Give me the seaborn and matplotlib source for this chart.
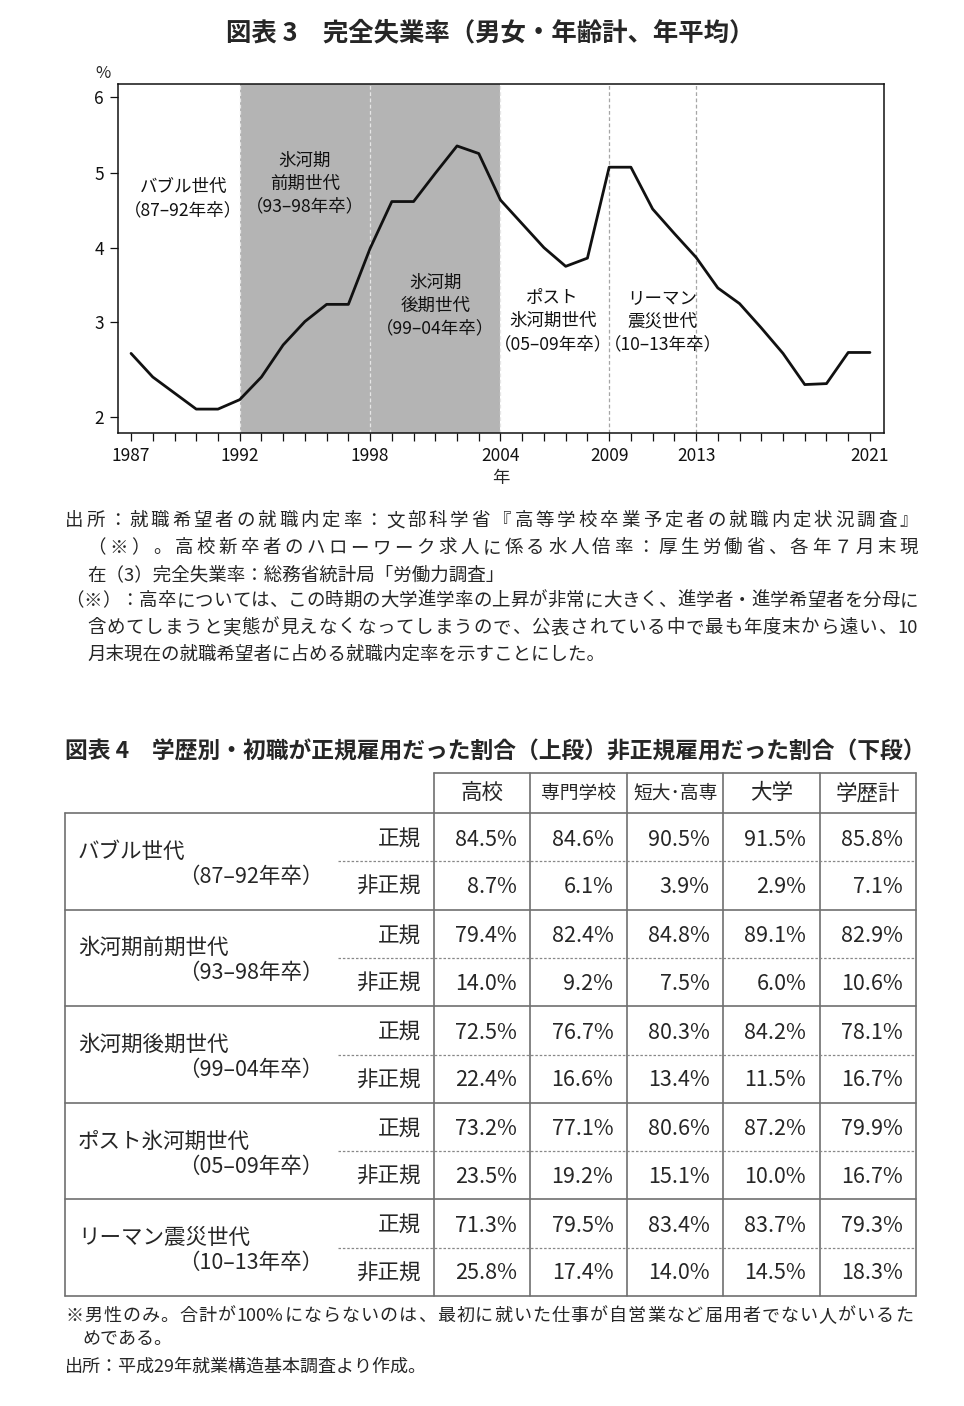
import re
import numpy as np
import pandas as pd
import matplotlib
matplotlib.use("Agg")
import matplotlib.pyplot as plt
import matplotlib.transforms as mtransforms
from matplotlib import font_manager, ft2font
import seaborn as sns

# ---- chart data (図表3) ----
years = list(range(1987, 2022))
unemployment = [2.67, 2.42, 2.25, 2.08, 2.08, 2.18, 2.42, 2.76, 3.01, 3.24,
                3.24, 3.99, 4.62, 4.62, 5.00, 5.36, 5.26, 4.64, 4.32, 4.00,
                3.75, 3.86, 5.08, 5.08, 4.52, 4.19, 3.87, 3.46, 3.25, 2.94,
                2.67, 2.34, 2.35, 2.68, 2.68]
labeled_years = [1987, 1992, 1998, 2004, 2009, 2013, 2021]
y_ticks = [2, 3, 4, 5, 6]
ice_age_start, ice_age_end = 1992, 2004
bounds_in_shade = [1992, 1998, 2004]
bounds_outside = [2009, 2013]
generation_texts = [
    "バブル世代\n（87–92年卒）",
    "氷河期\n前期世代\n（93–98年卒）",
    "氷河期\n後期世代\n（99–04年卒）",
    "ポスト\n氷河期世代\n（05–09年卒）",
    "リーマン\n震災世代\n（10–13年卒）",
]

# ---- table data (図表4) ----
groups = ["バブル世代", "氷河期前期世代", "氷河期後期世代", "ポスト氷河期世代", "リーマン震災世代"]
periods = ["（87–92年卒）", "（93–98年卒）", "（99–04年卒）", "（05–09年卒）", "（10–13年卒）"]
edu_cols = ["高校", "専門学校", "短大･高専", "大学", "学歴計"]
regular = [
    [84.5, 84.6, 90.5, 91.5, 85.8],
    [79.4, 82.4, 84.8, 89.1, 82.9],
    [72.5, 76.7, 80.3, 84.2, 78.1],
    [73.2, 77.1, 80.6, 87.2, 79.9],
    [71.3, 79.5, 83.4, 83.7, 79.3],
]
nonregular = [
    [8.7, 6.1, 3.9, 2.9, 7.1],
    [14.0, 9.2, 7.5, 6.0, 10.6],
    [22.4, 16.6, 13.4, 11.5, 16.7],
    [23.5, 19.2, 15.1, 10.0, 16.7],
    [25.8, 17.4, 14.0, 14.5, 18.3],
]

notes_top = [
    "出所：就職希望者の就職内定率：文部科学省『高等学校卒業予定者の就職内定状況調査』",
    "（※）。高校新卒者のハローワーク求人に係る水人倍率：厚生労働省、各年７月末現",
    "在（3）完全失業率：総務省統計局「労働力調査」",
    "（※）：高卒については、この時期の大学進学率の上昇が非常に大きく、進学者・進学希望者を分母に",
    "含めてしまうと実態が見えなくなってしまうので、公表されている中で最も年度末から遠い、10",
    "月末現在の就職希望者に占める就職内定率を示すことにした。",
]
notes_bottom = [
    "※男性のみ。合計が100%にならないのは、最初に就いた仕事が自営業など届用者でない人がいるた",
    "めである。",
    "出所：平成29年就業構造基本調査より作成。",
]

sns.set_theme(style="ticks")
plt.rcParams["font.family"] = ["Noto Sans CJK JP", "DejaVu Sans"]

W, H = 964, 1406
DPI = 100
fig = plt.figure(figsize=(W / DPI, H / DPI), dpi=DPI)
fig.patch.set_facecolor("white")


def fx(px):
    return px / W


def fy(py):
    return 1 - py / H


_font_path = font_manager.findfont(font_manager.FontProperties(family="Noto Sans CJK JP"))


def advance(token, size):
    f = ft2font.FT2Font(_font_path, hinting_factor=1)
    f.set_size(size, DPI)
    return sum(f.load_char(ord(c)).linearHoriAdvance / 65536.0 for c in token)


def text_line(x0, y, s, size, x1=None):
    """Left aligned line; when x1 is given, spread it out to end at x1 (justified)."""
    if x1 is None:
        fig.text(fx(x0), fy(y), s, ha="left", va="center", fontsize=size)
        return
    tokens = re.findall(r"[0-9A-Za-z%.]+|.", s)
    advs = [advance(t, size) for t in tokens]
    gap = (x1 - x0 - sum(advs)) / max(len(tokens) - 1, 1)
    gap = max(gap, -2.0)
    x = x0
    for t, a in zip(tokens, advs):
        fig.text(fx(x), fy(y), t, ha="left", va="center", fontsize=size)
        x += a + gap


# the printed y axis is not evenly spaced (2->3 is wider than the rest)
Y_KNOTS = [0, 2, 3, 4, 5, 6, 8]
PX_KNOTS = [-188.8, 0.0, 94.4, 169.0, 243.4, 319.4, 471.4]


def y_fwd(v):
    return np.interp(v, Y_KNOTS, PX_KNOTS)


def y_inv(p):
    return np.interp(p, PX_KNOTS, Y_KNOTS)


# ---------------- chart ----------------
fig.text(fx(490), fy(33), "図表 3　完全失業率（男女・年齢計、年平均）",
         ha="center", va="center", fontsize=18.3, fontweight="bold")

ax = fig.add_axes([fx(118), fy(432.7), fx(884.3) - fx(118), fy(84.3) - fy(432.7)])
ax.set_facecolor("white")
ax.axvspan(ice_age_start, ice_age_end, color="#b4b4b4", lw=0, zorder=0)
for yr in bounds_in_shade:
    ax.axvline(yr, color="#e6e6e6", ls=(0, (3, 2)), lw=0.9, zorder=1)
for yr in bounds_outside:
    ax.axvline(yr, color="#a6a6a6", ls=(0, (3, 2)), lw=0.9, zorder=1)

df = pd.DataFrame({"year": years, "rate": unemployment})
sns.lineplot(data=df, x="year", y="rate", color="#111111", linewidth=2.0, ax=ax, zorder=3)

ax.set_yscale("function", functions=(y_fwd, y_inv))
ax.set_xlim(1986.4, 2021.66)
ax.set_ylim(1.83, 6.171)
ax.set_xticks(years)
ax.set_xticklabels([str(y) if y in labeled_years else "" for y in years])
ax.set_yticks(y_ticks)
ax.set_yticklabels([str(v) for v in y_ticks])
ax.minorticks_off()
ax.tick_params(axis="x", direction="out", length=5.5, width=0.9, pad=5,
               labelsize=12.5, colors="#111111")
ax.tick_params(axis="y", direction="out", length=6, width=0.9, pad=4,
               labelsize=12.5, colors="#111111")
ax.set_xlabel("")
ax.set_ylabel("")
for s in ax.spines.values():
    s.set_color("#111111")
    s.set_linewidth(1.1)

trans = mtransforms.blended_transform_factory(ax.transData, ax.transAxes)
text_x = [1989.4, 1995.0, 2001.0, 2006.4, 2011.45]
text_y = [0.672, 0.715, 0.3645, 0.32, 0.32]
for t, x, y in zip(generation_texts, text_x, text_y):
    ax.text(x, y, t, transform=trans, ha="center", va="center",
            fontsize=12.6, linespacing=1.34, color="#111111", zorder=4)
ax.text(2004, -0.13, "年", transform=trans, ha="center", va="center", fontsize=12.5)
ax.text(-0.02, 1.03, "%", transform=ax.transAxes, ha="center", va="center", fontsize=12)

note_y = [521, 548, 575, 601, 628, 655]
note_x = [65, 87, 87, 65, 87, 87]
note_end = [918, 918, None, 918, 918, None]
for t, x, y, e in zip(notes_top, note_x, note_y, note_end):
    text_line(x, y, t, 13.3, e)

# ---------------- table ----------------
fig.text(fx(65), fy(752), "図表 4　学歴別・初職が正規雇用だった割合（上段）非正規雇用だった割合（下段）",
         ha="left", va="center", fontsize=16.4, fontweight="bold")

tax = fig.add_axes([fx(65), fy(1296), fx(916) - fx(65), fy(773) - fy(1296)])
tax.set_xlim(0, 8.83)
tax.set_ylim(10, -0.83)
tax.axis("off")

LINE = "#707070"
n_col = len(edu_cols)
col0 = 3.83
sub0 = 2.83
edges = [col0 + i for i in range(n_col + 1)]
right = edges[-1]
n_rows = len(groups) * 2

tax.plot([col0, right], [-0.83, -0.83], color=LINE, lw=1.2, clip_on=False)
for xb in edges:
    tax.plot([xb, xb], [-0.83, n_rows], color=LINE, lw=1.2, clip_on=False)
tax.plot([0, 0], [0, n_rows], color=LINE, lw=1.2, clip_on=False)
for g in range(len(groups) + 1):
    tax.plot([0, right], [2 * g, 2 * g], color=LINE, lw=1.2, clip_on=False)
for g in range(len(groups)):
    tax.plot([sub0, right], [2 * g + 1, 2 * g + 1], color="#888888", lw=0.9,
             ls=(0, (2, 1.5)), clip_on=False)

for i, name in enumerate(edu_cols):
    fs = 13.5 if len(name) > 3 else 15.5
    tax.text(col0 + i + 0.5, -0.415, name, ha="center", va="center", fontsize=fs)

for g in range(len(groups)):
    top = 2 * g
    tax.text(0.135, top + 0.8, groups[g], ha="left", va="center", fontsize=15.5)
    tax.text(2.68, top + 1.32, periods[g], ha="right", va="center", fontsize=15.5)
    tax.text(3.69, top + 0.55, "正規", ha="right", va="center", fontsize=15.5)
    tax.text(3.69, top + 1.53, "非正規", ha="right", va="center", fontsize=15.5)
    for i in range(n_col):
        xr = col0 + i + 1 - 0.14
        tax.text(xr, top + 0.55, f"{regular[g][i]:.1f}%", ha="right", va="center", fontsize=15.5)
        tax.text(xr, top + 1.53, f"{nonregular[g][i]:.1f}%", ha="right", va="center", fontsize=15.5)

bottom_y = [1316, 1339, 1367]
bottom_x = [65, 82, 65]
bottom_end = [913, None, None]
for t, x, y, e in zip(notes_bottom, bottom_x, bottom_y, bottom_end):
    text_line(x, y, t, 13, e)

fig.savefig("out.png", dpi=DPI, facecolor="white")
